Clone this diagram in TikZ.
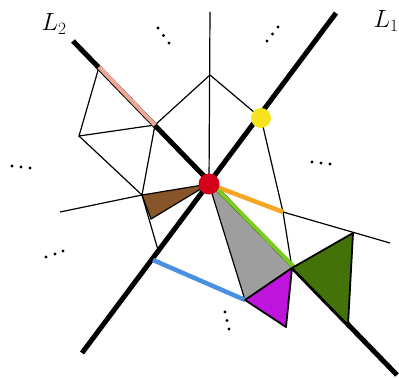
\documentclass[tikz,border=0pt]{standalone}
\begin{document}
\begin{tikzpicture}[x=1pt,y=-1pt,
  thin edge/.style={line width=1.2pt, black},
  axis/.style={line width=5pt, black},
  band/.style={line width=4.5pt},
  tri/.style={draw=black, line width=1.8pt, line join=round},
  dotmark/.style={fill=black, circle, inner sep=0pt, minimum size=3.2pt},
  lab/.style={font=\fontsize{26}{30}\selectfont, inner sep=0pt}]
\definecolor{pinkc}{RGB}{240,168,150}
\definecolor{orangec}{RGB}{245,166,35}
\definecolor{brownc}{RGB}{136,84,42}
\definecolor{grayc}{RGB}{158,158,158}
\definecolor{magc}{RGB}{190,20,222}
\definecolor{lgreen}{RGB}{122,204,30}
\definecolor{dgreen}{RGB}{67,115,8}
\definecolor{bluec}{RGB}{74,144,226}
\definecolor{redc}{RGB}{213,0,28}
\definecolor{yellowc}{RGB}{246,228,30}
\useasboundingbox (0,0) rectangle (399,379);
% coordinates
\coordinate (C) at (209,184);
\coordinate (L1a) at (82,353);
\coordinate (L1b) at (336,13);
\coordinate (L2a) at (73,41);
\coordinate (L2b) at (397,375);
\coordinate (P1) at (99,67);
\coordinate (P2) at (155,125);
\coordinate (A) at (79,136);
\coordinate (B) at (142,195);
\coordinate (Br) at (151,219);
\coordinate (Bd) at (158,250);
\coordinate (T) at (210,75);
\coordinate (Top) at (210,12);
\coordinate (Y) at (261,118);
\coordinate (O) at (283,212);
\coordinate (G) at (292,268);
\coordinate (M) at (245,300);
\coordinate (Mb) at (286,327);
\coordinate (D) at (353,233);
\coordinate (Db) at (348,325);
\coordinate (R) at (390,243);
\coordinate (Lft) at (60,212);
\coordinate (Bl) at (153,260);
% thin edges
\draw[thin edge] (P1) -- (A) -- (P2);
\draw[thin edge] (A) -- (B);
\draw[thin edge] (P2) -- (B);
\draw[thin edge] (Lft) -- (B) -- (Bd);
\draw[thin edge] (P2) -- (T) -- (Y);
\draw[thin edge] (Top) -- (C);
\draw[thin edge] (Y) -- (O) -- (G);
\draw[thin edge] (O) -- (R);
% axes
\draw[axis] (L1a) -- (L1b);
\draw[axis] (L2a) -- (L2b);
% brown triangle
\fill[brownc] (B) -- (C) -- (Br) -- cycle;
\draw[thin edge] (B) -- (C) -- (Br) -- cycle;
% gray triangle
\fill[grayc] (C) -- (G) -- (M) -- cycle;
\draw[thin edge] (C) -- (M) -- (G);
% colored bands
\draw[band, pinkc, line width=4pt] (P1) -- (P2);
\draw[band, orangec] (C) -- (O);
\draw[band, lgreen, line width=4pt] ([shift={(1.6,-1.6)}]C) -- ([shift={(1.6,-1.6)}]G);
\draw[band, bluec] (Bl) -- (M);
% magenta and dark green triangles
\filldraw[tri, fill=magc] (M) -- (G) -- (Mb) -- cycle;
\filldraw[tri, fill=dgreen] (G) -- (D) -- (Db) -- cycle;
% circles
\fill[redc] (C) circle (10.5);
\fill[yellowc] (Y) circle (10);
% labels
\node[lab] (l2) at (54,24) {$L_2$};
\node[lab] (l1) at (386,21) {$L_1$};
% dots
\foreach \p in {(158,28),(163.5,35.5),(169,43)} \node[dotmark] at \p {};
\foreach \p in {(267,41),(272.5,34),(278,27)} \node[dotmark] at \p {};
\foreach \p in {(12,166),(21,167),(30,168)} \node[dotmark] at \p {};
\foreach \p in {(312,162),(321,163),(330,164)} \node[dotmark] at \p {};
\foreach \p in {(46,257),(55,254),(63,251)} \node[dotmark] at \p {};
\foreach \p in {(225,312),(227,320.5),(229,329)} \node[dotmark] at \p {};
\end{tikzpicture}
\end{document}
